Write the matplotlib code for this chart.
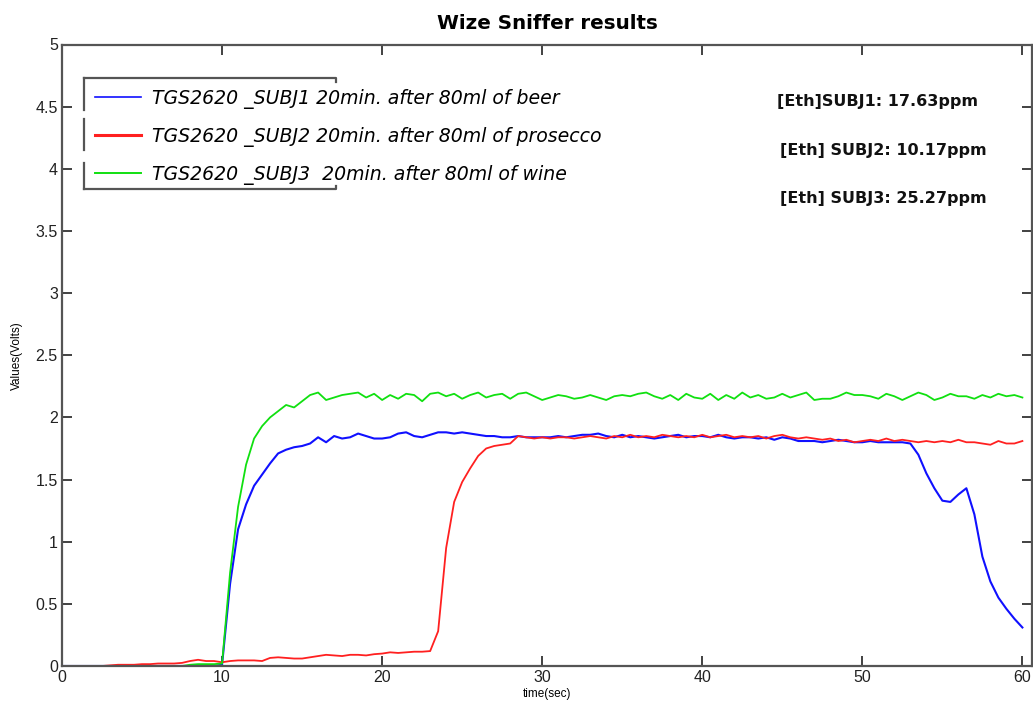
import numpy as np
import matplotlib
matplotlib.use("Agg")
import matplotlib.pyplot as plt
from matplotlib.lines import Line2D

plt.rcParams['font.family'] = ['Liberation Sans', 'DejaVu Sans']

# sampling times (sec), 0.5 s step
time_s = np.arange(0, 60.5, 0.5)

subj1_beer = [0.0] * 20 + [
    0.01, 0.66, 1.10, 1.30, 1.45, 1.54, 1.63, 1.71, 1.74, 1.76,
    1.77, 1.79, 1.84, 1.80, 1.85, 1.83, 1.84, 1.87, 1.85, 1.83,
    1.83, 1.84, 1.87, 1.88, 1.85, 1.84, 1.86, 1.88, 1.88, 1.87,
    1.88, 1.87, 1.86, 1.85, 1.85, 1.84, 1.84, 1.85, 1.84, 1.84,
    1.84, 1.84, 1.85, 1.84, 1.85, 1.86, 1.86, 1.87, 1.85, 1.84,
    1.86, 1.84, 1.85, 1.84, 1.83, 1.84, 1.85, 1.86, 1.84, 1.85,
    1.85, 1.84, 1.86, 1.84, 1.83, 1.84, 1.84, 1.83, 1.84, 1.82,
    1.84, 1.83, 1.81, 1.81, 1.81, 1.80, 1.81, 1.82, 1.81, 1.80,
    1.80, 1.81, 1.80, 1.80, 1.80, 1.80, 1.79, 1.70, 1.55, 1.43,
    1.33, 1.32, 1.38, 1.43, 1.22, 0.88, 0.68, 0.55, 0.46, 0.38,
    0.31]

subj2_prosecco = [0.0] * 6 + [
    0.005, 0.01, 0.01, 0.01, 0.015, 0.015, 0.02, 0.02, 0.02, 0.025,
    0.04, 0.05, 0.04, 0.04, 0.03, 0.04, 0.045, 0.045, 0.045, 0.04,
    0.065, 0.07, 0.065, 0.06, 0.06, 0.07, 0.08, 0.09, 0.085, 0.08,
    0.09, 0.09, 0.085, 0.095, 0.10, 0.11, 0.105, 0.11, 0.115, 0.115,
    0.12, 0.28, 0.95, 1.32, 1.48, 1.59, 1.69, 1.75, 1.77, 1.78,
    1.79, 1.85, 1.84, 1.83, 1.84, 1.83, 1.84, 1.84, 1.83, 1.84,
    1.85, 1.84, 1.83, 1.85, 1.84, 1.86, 1.84, 1.85, 1.84, 1.86,
    1.85, 1.84, 1.85, 1.84, 1.86, 1.84, 1.85, 1.86, 1.84, 1.85,
    1.84, 1.85, 1.83, 1.85, 1.86, 1.84, 1.83, 1.84, 1.83, 1.82,
    1.83, 1.81, 1.82, 1.80, 1.81, 1.82, 1.81, 1.83, 1.81, 1.82,
    1.81, 1.80, 1.81, 1.80, 1.81, 1.80, 1.82, 1.80, 1.80, 1.79,
    1.78, 1.81, 1.79, 1.79, 1.81]

subj3_wine = [0.0] * 16 + [0.01, 0.015, 0.015, 0.015] + [
    0.02, 0.75, 1.28, 1.62, 1.83, 1.93, 2.00, 2.05, 2.10, 2.08,
    2.13, 2.18, 2.20, 2.14, 2.16, 2.18, 2.19, 2.20, 2.16, 2.19,
    2.14, 2.18, 2.15, 2.19, 2.18, 2.13, 2.19, 2.20, 2.17, 2.19,
    2.15, 2.18, 2.20, 2.16, 2.18, 2.19, 2.15, 2.19, 2.20, 2.17,
    2.14, 2.16, 2.18, 2.17, 2.15, 2.16, 2.18, 2.16, 2.14, 2.17,
    2.18, 2.17, 2.19, 2.20, 2.17, 2.15, 2.18, 2.14, 2.19, 2.16,
    2.15, 2.19, 2.14, 2.18, 2.15, 2.20, 2.16, 2.18, 2.15, 2.16,
    2.19, 2.16, 2.18, 2.20, 2.14, 2.15, 2.15, 2.17, 2.20, 2.18,
    2.18, 2.17, 2.15, 2.19, 2.17, 2.14, 2.17, 2.20, 2.18, 2.14,
    2.16, 2.19, 2.17, 2.17, 2.15, 2.18, 2.16, 2.19, 2.17, 2.18,
    2.16]

labels = ["TGS2620 _SUBJ1 20min. after 80ml of beer",
          "TGS2620 _SUBJ2 20min. after 80ml of prosecco",
          "TGS2620 _SUBJ3  20min. after 80ml of wine"]
colors = ["#1010ff", "#ff2020", "#10e010"]
widths = [1.5, 1.3, 1.3]
results = ["[Eth]SUBJ1: 17.63ppm", "[Eth] SUBJ2: 10.17ppm", "[Eth] SUBJ3: 25.27ppm"]

fig = plt.figure(figsize=(10.33, 7.11), dpi=100)
ax = fig.add_axes([62 / 1033, 45 / 711, 970 / 1033, 621.5 / 711])

series = [subj1_beer, subj2_prosecco, subj3_wine]
for ys, c, lw, lab in zip(series, colors, widths, labels):
    ax.plot(time_s, ys, color=c, lw=lw, label=lab)

ax.set_xlim(0, 60.6)
ax.set_ylim(0, 5)
ax.set_xticks([0, 10, 20, 30, 40, 50, 60])
ax.set_yticks(np.arange(0, 5.01, 0.5))
ax.set_yticklabels(["0", "0.5", "1", "1.5", "2", "2.5", "3", "3.5", "4", "4.5", "5"])
ax.tick_params(direction='in', length=7, width=1.3, color='#333333',
               labelsize=11.5, labelcolor='#222222', top=True, right=True, pad=3)
for s in ax.spines.values():
    s.set_color('#555555')
    s.set_linewidth(1.6)

ax.set_title("Wize Sniffer results", fontsize=14.3, fontweight='bold', pad=11,
             family='DejaVu Sans')
ax.set_xlabel("time(sec)", fontsize=8.5, labelpad=2)
ax.set_ylabel("Values(Volts)", fontsize=8.5, labelpad=9)

# legend (text without frame) plus a bracket-like frame like the original
leg_handles = [Line2D([], [], color=c, lw=w) for c, w in zip(colors, [1.2, 2.2, 1.4])]
leg = ax.legend(leg_handles, labels, loc='upper left', bbox_to_anchor=(0.026, 0.941),
                frameon=False, prop={'style': 'italic', 'size': 13.6, 'family': 'DejaVu Sans'},
                handlelength=2.45, handletextpad=0.6, labelspacing=0.95,
                borderaxespad=0, borderpad=0.4)

fc = '#555555'
x0, x1 = 0.023, 0.282
y0, y1 = 0.767, 0.946
kw = dict(transform=ax.transAxes, color=fc, lw=1.6, clip_on=False)
ax.add_line(Line2D([x0, x1, x1], [y1, y1, y1 - 0.006], **kw))
ax.add_line(Line2D([x0, x1, x1], [y0, y0, y0 + 0.006], **kw))
ax.add_line(Line2D([x0, x0], [y1, 0.895], **kw))
ax.add_line(Line2D([x0, x0], [0.88, 0.83], **kw))
ax.add_line(Line2D([x0, x0], [0.81, y0], **kw))

ypos = [0.909, 0.829, 0.753]
xpos = [0.737, 0.740, 0.740]
for txt, xp, yp in zip(results, xpos, ypos):
    ax.text(xp, yp, txt, transform=ax.transAxes, fontsize=11.5,
            fontweight='bold', ha='left', va='center', color='#111111',
            family='DejaVu Sans')

fig.savefig("out.png", dpi=100)
